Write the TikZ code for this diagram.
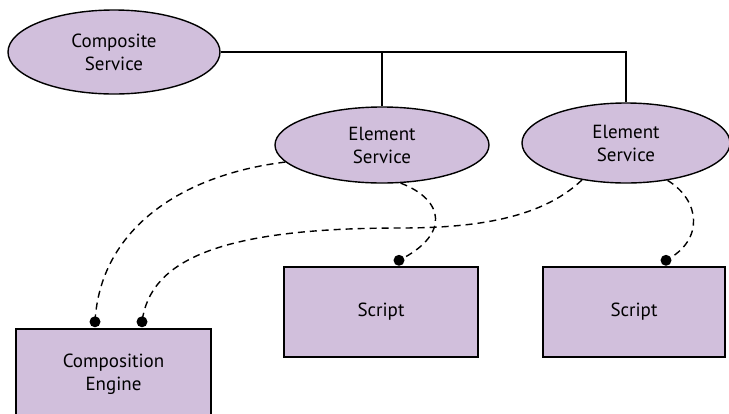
\documentclass[tikz,border=0pt]{standalone}
\usepackage{fontspec}
\setmainfont{PT Sans}
\usetikzlibrary{shapes.geometric}
\definecolor{lilac}{RGB}{209,191,220}
\tikzset{
  svc/.style={ellipse, draw, fill=lilac, line width=1.4pt, inner sep=0pt,
    align=center, font=\fontsize{19}{23}\selectfont},
  box/.style={rectangle, draw, fill=lilac, line width=1.4pt, inner sep=0pt,
    align=center, font=\fontsize{19}{23}\selectfont},
  link/.style={line width=1.4pt},
  dep/.style={line width=1.4pt, dash pattern=on 7pt off 5pt},
  pin/.style={circle, fill=black, inner sep=0pt, minimum size=11pt}
}
\begin{document}
\begin{tikzpicture}[x=1pt, y=-1pt]
  \useasboundingbox (0,0) rectangle (729,413);
  \clip (0,0) rectangle (729,413);

  % services
  \node[svc, minimum width=212pt, minimum height=84pt] (comp) at (114,52) {Composite\\Service};
  \node[svc, minimum width=214pt, minimum height=76pt] (es1) at (382,145) {Element\\Service};
  \node[svc, minimum width=208pt, minimum height=80pt] (es2) at (626,143) {Element\\Service};

  % implementation boxes
  \node[box, minimum width=194pt, minimum height=90pt] (s1) at (381,312) {Script};
  \node[box, minimum width=182pt, minimum height=90pt] (s2) at (634,312) {Script};
  \node[box, minimum width=195pt, minimum height=90pt] (eng) at (113.5,374) {Composition\\Engine};

  % composition tree
  \draw[link] (comp.east) -| (es2.north);
  \draw[link] (es1.north) |- (comp.east);

  % attachment points
  \node[pin] (p1) at ([xshift=-18.5pt, yshift=6.5pt]eng.north) {};
  \node[pin] (p2) at ([xshift=28.5pt, yshift=6.5pt]eng.north) {};
  \node[pin] (p3) at ([xshift=18pt, yshift=6pt]s1.north) {};
  \node[pin] (p4) at ([xshift=32pt, yshift=6pt]s2.north) {};

  % bindings
  \draw[dep] (es1.190) .. controls (180,175) and (100,230) .. (p1.center);
  \draw[dep] (es2.220) .. controls (540,220) and (470,228) .. (400,228)
                      .. controls (220,228) and (150,260) .. (p2.center);
  \draw[dep] (es1.296) .. controls (445,200) and (450,235) .. (p3.center);
  \draw[dep] (es2.318) .. controls (700,200) and (705,240) .. (p4.center);
\end{tikzpicture}
\end{document}
